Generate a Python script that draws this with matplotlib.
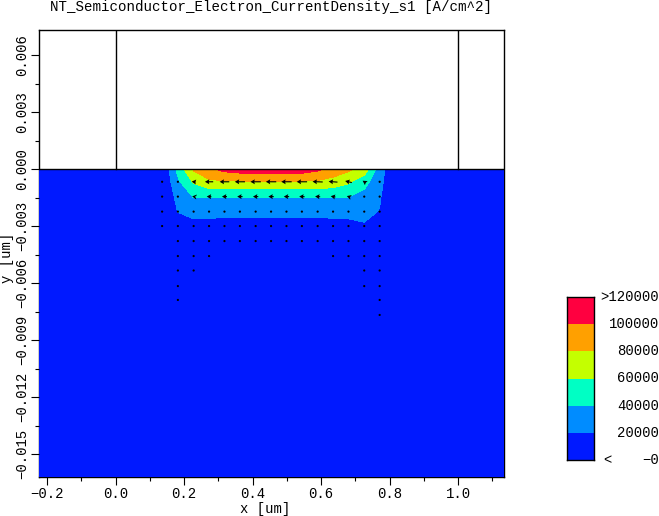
#!/usr/bin/env python3
import numpy as np
import matplotlib
matplotlib.use('Agg')
import matplotlib.pyplot as plt
from matplotlib.ticker import FixedLocator

plt.rcParams['font.family'] = ['Liberation Mono', 'DejaVu Sans Mono']

title = 'NT_Semiconductor_Electron_CurrentDensity_s1 [A/cm^2]'

# mesh columns and rows under the contact [um]
x_nodes = [0.136, 0.182, 0.228, 0.273, 0.318, 0.363, 0.409, 0.454,
           0.499, 0.544, 0.590, 0.635, 0.680, 0.726, 0.771, 0.816]
y_rows = [0.0, -0.00067, -0.00145, -0.00224, -0.00300, -0.00379]

# current density magnitude [A/cm^2], one row per y_rows entry
J_00 = [0, 46000, 83000, 96000, 106000, 110000, 112000, 112000, 112000, 111000, 104000, 94000, 84000, 72000, 30000, 0]
J_01 = [0, 36000, 62000, 76000, 78000, 78000, 78000, 78000, 78000, 78000, 77000, 72000, 63000, 47000, 26000, 0]
J_02 = [0, 26000, 41000, 41000, 41000, 41000, 41000, 41000, 41000, 41000, 41000, 41000, 40500, 33000, 22000, 0]
J_03 = [0, 20500, 27000, 26000, 25000, 25000, 25000, 25000, 25000, 25000, 25000, 25000, 24000, 24000, 19300, 0]
J_04 = [0, 9000, 13000, 13000, 13000, 13000, 13000, 13000, 13000, 13000, 13000, 14000, 16000, 18500, 9000, 0]
J_05 = [0, 2000, 3000, 3000, 3000, 3000, 3000, 3000, 3000, 3000, 3000, 3000, 4000, 5000, 2000, 0]

levels = [0, 20000, 40000, 60000, 80000, 100000, 120000]
colors = ['#0019ff', '#008cff', '#00ffc4', '#c4ff00', '#ffa000', '#ff0040']
cbar_labels = ['\u22120', '20000', '40000', '60000', '80000', '100000', '>120000']

# arrows: x positions are the first 15 mesh columns, nan = no arrow drawn
arrow_y = [-0.00067, -0.00145, -0.00224, -0.00300, -0.00379, -0.00458, -0.00534, -0.00616, -0.00689, -0.00768]
n = float('nan')
Jx = [
    [-1000, -8000, -30000, -62000, -72000, -76000, -78000, -78000, -78000, -78000, -76000, -66000, -50000, -24000, -3000],
    [-3000, -9000, -22000, -35000, -38000, -40000, -40000, -40000, -40000, -40000, -38000, -35000, -25000, -12000, -6000],
    [-2000, -6000, -6000, -8000, -11000, -12000, -13000, -13000, -12000, -11000, -10000, -6000, -4000, -6000, -3000],
    [-3000, -2000, -3000, -4000, -3000, -6000, -6000, -6000, -4000, -6000, -4000, -3000, -3000, -2000, -1000],
    [n, -1000, -2000, -1000, -2000, -1000, -2000, -1000, -1000, -1000, -2000, -1000, -2000, -2000, -1000],
    [n, -2000, -2000, -500, n, n, n, n, n, n, n, -500, -500, -2000, -500],
    [n, -500, -500, n, n, n, n, n, n, n, n, n, n, -1500, -1500],
    [n, -500, n, n, n, n, n, n, n, n, n, n, n, -500, -1500],
    [n, -300, n, n, n, n, n, n, n, n, n, n, n, n, -2000],
    [n, n, n, n, n, n, n, n, n, n, n, n, n, n, -300],
]
Jy = [
    [0, 3000, 3000, 0, 0, 0, 0, 0, 0, 0, 3000, 5000, 12000, 16000, 4000],
    [0, 1000, 3000, 1000, 0, 0, 0, 0, 0, 1000, 2000, 6000, 8000, 8000, 4000],
    [0, 1000, 4000, 1000, -1000, 1000, 1000, -1000, 1000, 1000, 3000, 5000, 4000, 3000, 3000],
    [0, 1000, 2000, 0, 2000, 0, 0, 2000, 2000, 0, 2000, 3000, 2000, 2000, 0],
    [n, 1000, 1000, 1000, 1000, 0, 1000, 1000, 1000, 0, 1000, 1000, 1000, 1000, 0],
    [n, 1000, 1000, 1500, n, n, n, n, n, n, n, 1500, 1500, 1000, 1500],
    [n, 1500, 1500, n, n, n, n, n, n, n, n, n, n, 1000, 1000],
    [n, 1500, n, n, n, n, n, n, n, n, n, n, n, 1500, 1000],
    [n, 500, n, n, n, n, n, n, n, n, n, n, n, n, 300],
    [n, n, n, n, n, n, n, n, n, n, n, n, n, n, 300],
]

x_left, x_right = -0.2234, 1.134
y_top, y_bottom = 0.00732, -0.01621
W, H = 659, 516


def main():
    fig = plt.figure(figsize=(W / 100, H / 100), dpi=100)
    ax = fig.add_axes([39 / W, 1 - 477 / H, 465 / W, 447 / H])
    ax.set_xlim(x_left, x_right)
    ax.set_ylim(y_bottom, y_top)

    # pad the table out to the whole substrate, all of it in the lowest band
    xs = [x_left] + x_nodes + [x_right]
    ys = y_rows + [y_bottom]
    Z = np.array([J_00, J_01, J_02, J_03, J_04, J_05], dtype=float)
    Z = np.pad(Z, ((0, 1), (1, 1)), constant_values=0)
    ax.contourf(xs, ys, Z, levels=levels, colors=colors, extend='max',
                antialiased=False, zorder=1)

    ax.quiver(x_nodes[:15], arrow_y,
              np.ma.masked_invalid(Jx), np.ma.masked_invalid(Jy),
              pivot='mid', units='dots', angles='uv', scale=7500,
              width=1.1, headwidth=4.5, headlength=4, headaxislength=3.5,
              minshaft=0.5, minlength=2.2, color='k', zorder=3)

    # oxide/contact outline
    ax.axhline(0, color='k', lw=1, zorder=4)
    ax.plot([0, 0], [0, y_top], color='k', lw=1, zorder=4)
    ax.plot([1, 1], [0, y_top], color='k', lw=1, zorder=4)

    for s in ax.spines.values():
        s.set_zorder(0.5)
        s.set_linewidth(1)

    xt = [-0.2, 0.0, 0.2, 0.4, 0.6, 0.8, 1.0]
    ax.set_xticks(xt)
    ax.set_xticklabels(['\u22120.2', '0.0', '0.2', '0.4', '0.6', '0.8', '1.0'])
    ax.xaxis.set_minor_locator(FixedLocator([-0.1, 0.1, 0.3, 0.5, 0.7, 0.9, 1.1]))
    yt = [0.006, 0.003, 0.0, -0.003, -0.006, -0.009, -0.012, -0.015]
    ax.set_yticks(yt)
    ax.set_yticklabels(['0.006', '0.003', '0.000', '\u22120.003', '\u22120.006',
                        '\u22120.009', '\u22120.012', '\u22120.015'],
                       rotation=90, va='center')
    ax.yaxis.set_minor_locator(FixedLocator([0.0045, 0.0015, -0.0015, -0.0045, -0.0075,
                                             -0.0105, -0.0135]))
    ax.tick_params(axis='both', which='major', length=6, width=0.8, labelsize=10, pad=1)
    ax.tick_params(axis='both', which='minor', length=3.2, width=0.8)

    fig.text(271 / W, 1 - 7 / H, title, ha='center', va='center', fontsize=10.2)
    fig.text(265 / W, 1 - 509 / H, 'x [um]', ha='center', va='center', fontsize=10)
    fig.text(7 / W, 1 - 258 / H, 'y [um]', ha='center', va='center', rotation=90, fontsize=10)

    # colour bar with its labels on the band edges
    cax = fig.add_axes([567 / W, 1 - 460 / H, 27 / W, 163 / H])
    cax.pcolormesh([0, 1], levels, np.arange(6).reshape(6, 1),
                   cmap=matplotlib.colors.ListedColormap(colors), antialiased=False)
    cax.set_xticks([])
    cax.set_yticks([])
    for s in cax.spines.values():
        s.set_linewidth(1)
    ytrans = cax.get_yaxis_transform()
    for lev, lab in zip(levels, cbar_labels):
        cax.text(92 / 27, lev, lab, transform=ytrans, ha='right', va='center',
                 fontsize=10, clip_on=False)
    cax.text(36 / 27, 0, '<', transform=ytrans, ha='left', va='center',
             fontsize=10, clip_on=False)

    fig.savefig('out.png', dpi=100)


if __name__ == '__main__':
    main()
